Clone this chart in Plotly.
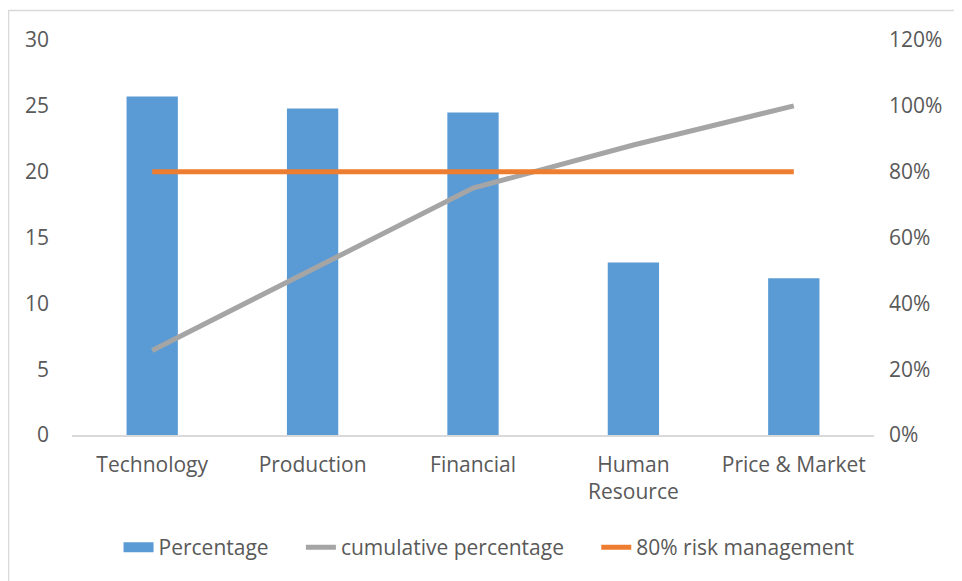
import plotly.graph_objects as go

categories = ["Technology", "Production", "Financial", "Human<br>Resource", "Price & Market"]
percentage = [25.7, 24.8, 24.5, 13.1, 11.9]
cumulative = [0.257, 0.505, 0.75, 0.881, 1.0]
risk_line = [0.8, 0.8, 0.8, 0.8, 0.8]

left_ticks = [0, 5, 10, 15, 20, 25, 30]
right_ticks = [0, 0.2, 0.4, 0.6, 0.8, 1.0, 1.2]

series_names = ["Percentage", "cumulative percentage", "80% risk management"]

font_family = "Open Sans, sans-serif"
tick_color = "#595959"
fs = 21
pad = "\u00a0" * 5

fig = go.Figure()
fig.add_trace(go.Bar(x=categories, y=percentage, name=series_names[0],
                     marker=dict(color="#5B9BD5", line=dict(width=0)), yaxis="y",
                     showlegend=False, legendrank=1))
# legend-only entry so the key shows a wide rectangle like the original
fig.add_trace(go.Scatter(x=[None], y=[None], name=series_names[0] + pad, mode="lines",
                         line=dict(color="#5B9BD5", width=14), legendrank=1,
                         hoverinfo="skip"))
fig.add_trace(go.Scatter(x=categories, y=cumulative, name=series_names[1] + pad,
                         mode="lines", line=dict(color="#A5A5A5", width=5), yaxis="y2",
                         legendrank=2))
fig.add_trace(go.Scatter(x=categories, y=risk_line, name=series_names[2],
                         mode="lines", line=dict(color="#ED7D31", width=5), yaxis="y2",
                         legendrank=3))

W, H = 954, 573
L, R, T, B = 64, 88, 32, 146
pw, ph = W - L - R, H - T - B

fig.update_layout(
    width=W, height=H,
    margin=dict(l=L, r=R, t=T, b=B),
    paper_bgcolor="white", plot_bgcolor="white",
    font=dict(family=font_family, size=fs, color=tick_color),
    bargap=0.68,
    showlegend=True,
    legend=dict(orientation="h", x=0.52, xanchor="center", y=-0.285, yanchor="middle",
                font=dict(size=fs, color=tick_color), itemwidth=30, tracegroupgap=0),
    xaxis=dict(type="category", showgrid=False, showline=True, linecolor="#D9D9D9",
               linewidth=1.5, ticks="", tickfont=dict(size=fs, color=tick_color),
               ticklabelstandoff=10),
    yaxis=dict(range=[0, 30], tickvals=left_ticks, showgrid=False, zeroline=False,
               showline=False, ticks="", tickfont=dict(size=fs, color=tick_color),
               ticklabelstandoff=22),
    yaxis2=dict(range=[0, 1.2], tickvals=right_ticks, tickformat=".0%", overlaying="y",
                side="right", showgrid=False, zeroline=False, showline=False, ticks="",
                tickfont=dict(size=fs, color=tick_color), ticklabelstandoff=14),
    shapes=[dict(type="rect", xref="paper", yref="paper",
                 x0=(0.5 - L) / pw, x1=1 + (R + 20) / pw,
                 y0=-(B + 20) / ph, y1=1 + (T - 2.5) / ph,
                 line=dict(color="#D9D9D9", width=1.5), layer="below")],
)

fig.write_html("out.html")
